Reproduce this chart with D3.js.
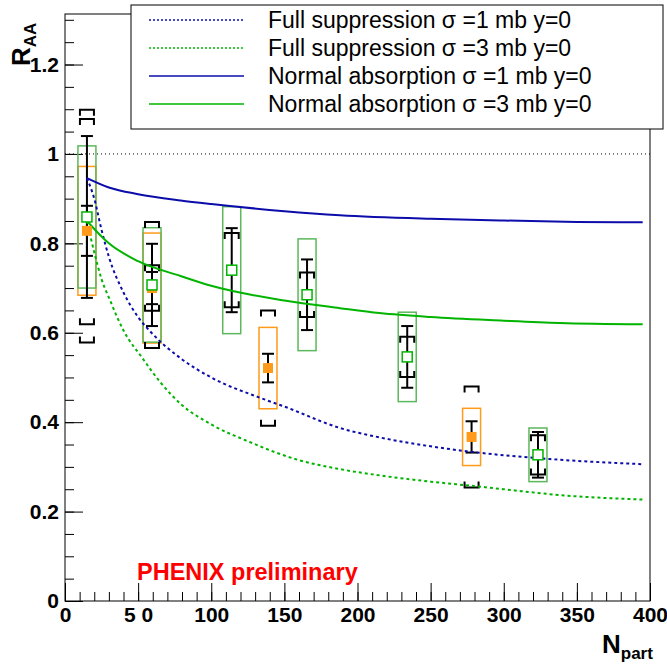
<!DOCTYPE html>
<html>
<head>
<meta charset="utf-8">
<script src="https://cdn.jsdelivr.net/npm/d3@7"></script>
<style>
body { margin: 0; background: #fff; }
svg text { font-family: "Liberation Sans", Arial, sans-serif; }
</style>
</head>
<body>
<svg id="chart" width="667" height="669"></svg>
<script>
// forward rapidity points (open green squares)
var npartFwd = [15, 59.5, 114, 165.5, 234, 323.4];
var raaFwd   = [0.859, 0.707, 0.740, 0.685, 0.546, 0.327];
var statFwd  = [0.181, 0.092, 0.094, 0.079, 0.069, 0.051];
var systFwd  = [0.240, 0.141, 0.083, 0.050, 0.045, 0.044];
var boxFwd   = [0.159, 0.128, 0.142, 0.125, 0.100, 0.060];

// mid rapidity points (filled orange squares)
var npartMid = [15, 59.5, 138.8, 278];
var raaMid   = [0.828, 0.700, 0.521, 0.367];
var statMid  = [0.056, 0.036, 0.032, 0.035];
var systMid  = [0.250, 0.051, 0.129, 0.113];
var boxMid   = [0.144, 0.123, 0.091, 0.064];

// model curves
var npartFull1 = [15, 20, 25, 30, 40, 50, 60, 79, 100, 133, 150, 188, 215, 250, 277, 300, 338, 395];
var raaFull1   = [0.946, 0.90, 0.83, 0.77, 0.69, 0.635, 0.597, 0.543, 0.50, 0.455, 0.435, 0.387, 0.366, 0.346, 0.334, 0.326, 0.316, 0.306];
var npartFull3 = [15, 20, 25, 31, 40, 53, 65, 79, 100, 126, 160, 188, 215, 250, 277, 300, 338, 395];
var raaFull3   = [0.850, 0.78, 0.72, 0.671, 0.605, 0.543, 0.49, 0.441, 0.395, 0.356, 0.315, 0.295, 0.281, 0.267, 0.258, 0.250, 0.237, 0.227];
var npartNorm1 = [15, 30, 50, 79, 100, 150, 188, 250, 300, 350, 395];
var raaNorm1   = [0.946, 0.925, 0.910, 0.896, 0.888, 0.872, 0.863, 0.855, 0.851, 0.848, 0.847];
var npartNorm3 = [15, 30, 50, 79, 100, 150, 188, 215, 250, 300, 338, 395];
var raaNorm3   = [0.850, 0.800, 0.760, 0.727, 0.705, 0.672, 0.655, 0.644, 0.635, 0.627, 0.622, 0.619];

var legendLabels = ["Full suppression \u03c3 =1 mb y=0", "Full suppression \u03c3 =3 mb y=0",
                    "Normal absorption \u03c3 =1 mb y=0", "Normal absorption \u03c3 =3 mb y=0"];
var xTicks = [0, 50, 100, 150, 200, 250, 300, 350, 400];
var yTicks = [0, 0.2, 0.4, 0.6, 0.8, 1, 1.2];

var blue = "#0c0caa", green = "#00b400", boxGreen = "#5cb85c", orange = "#ff9a1a";

var svg = d3.select("#chart");
var x = d3.scaleLinear().domain([0, 400]).range([65, 650]);
var y = d3.scaleLinear().domain([0, 1.313]).range([601, 14]);

// frame
svg.append("rect").attr("x", 65).attr("y", 14).attr("width", 585).attr("height", 587)
  .attr("fill", "none").attr("stroke", "#000").attr("stroke-width", 1);

// axes, ticks inward
var xAx = svg.append("g").attr("transform", "translate(0,601)")
  .call(d3.axisBottom(x).tickValues(xTicks).tickSize(-18).tickPadding(6)
    .tickFormat(function(d) { return d === 50 ? "5 0" : d; }));
svg.append("g").attr("transform", "translate(0,601)")
  .call(d3.axisBottom(x).tickValues(d3.range(0, 401, 10)).tickSize(-9).tickFormat(""));
var yAx = svg.append("g").attr("transform", "translate(65,0)")
  .call(d3.axisLeft(y).tickValues(yTicks).tickSize(-18).tickPadding(6)
    .tickFormat(function(d) { return d === 0 || d === 1 ? d : d.toFixed(1); }));
svg.append("g").attr("transform", "translate(65,0)")
  .call(d3.axisLeft(y).tickValues(d3.range(0, 1.31, 0.05)).tickSize(-9).tickFormat(""));
svg.selectAll(".domain").remove();
svg.selectAll(".tick line").attr("stroke", "#000").attr("stroke-width", 1);
xAx.selectAll("text").attr("font-size", 21).attr("font-weight", "bold").attr("fill", "#000");
yAx.selectAll("text").attr("font-size", 21).attr("font-weight", "bold").attr("fill", "#000");

// axis titles
var xt = svg.append("text").attr("x", 602).attr("y", 653).attr("font-weight", "bold").attr("font-size", 26);
xt.append("tspan").text("N");
xt.append("tspan").attr("font-size", 17).attr("dy", 6).text("part");
var yt = svg.append("text").attr("transform", "translate(30,66) rotate(-90)")
  .attr("font-weight", "bold").attr("font-size", 26);
yt.append("tspan").text("R");
yt.append("tspan").attr("font-size", 17).attr("dy", 6).text("AA");

// dotted line at 1
svg.append("line").attr("x1", x(0)).attr("x2", x(400)).attr("y1", y(1)).attr("y2", y(1))
  .attr("stroke", "#000").attr("stroke-dasharray", "1,3");

// global boxes
function boxes(np, val, err, col) {
  svg.append("g").selectAll("rect").data(np).join("rect")
    .attr("x", function(d) { return x(d) - 9; })
    .attr("width", 18)
    .attr("y", function(d, i) { return y(val[i] + err[i]); })
    .attr("height", function(d, i) { return y(val[i] - err[i]) - y(val[i] + err[i]); })
    .attr("fill", "none").attr("stroke", col).attr("stroke-width", 1.5);
}
boxes(npartMid, raaMid, boxMid, orange);
boxes(npartFwd, raaFwd, boxFwd, boxGreen);

// stat error bars
function statBars(np, val, err) {
  var g = svg.append("g").attr("stroke", "#000").attr("stroke-width", 2);
  np.forEach(function(n, i) {
    var cx = x(n), y1 = y(val[i] + err[i]), y2 = y(val[i] - err[i]);
    g.append("line").attr("x1", cx).attr("x2", cx).attr("y1", y1).attr("y2", y2);
    g.append("line").attr("x1", cx - 6).attr("x2", cx + 6).attr("y1", y1).attr("y2", y1);
    g.append("line").attr("x1", cx - 6).attr("x2", cx + 6).attr("y1", y2).attr("y2", y2);
  });
}
// systematic brackets
function brackets(np, val, err) {
  var g = svg.append("g").attr("stroke", "#000").attr("stroke-width", 2).attr("fill", "none");
  np.forEach(function(n, i) {
    var cx = x(n), y1 = y(val[i] + err[i]), y2 = y(val[i] - err[i]);
    g.append("path").attr("d", "M" + (cx - 7) + "," + (y1 + 6) + "V" + y1 + "H" + (cx + 7) + "V" + (y1 + 6));
    g.append("path").attr("d", "M" + (cx - 7) + "," + (y2 - 6) + "V" + y2 + "H" + (cx + 7) + "V" + (y2 - 6));
  });
}
statBars(npartMid, raaMid, statMid);
brackets(npartMid, raaMid, systMid);
statBars(npartFwd, raaFwd, statFwd);
brackets(npartFwd, raaFwd, systFwd);

// model curves
var line = d3.line().curve(d3.curveMonotoneX);
function curve(np, val, col, dash) {
  svg.append("path").datum(np.map(function(d, i) { return [x(d), y(val[i])]; }))
    .attr("d", line).attr("fill", "none").attr("stroke", col).attr("stroke-width", 2)
    .attr("stroke-dasharray", dash);
}
curve(npartFull1, raaFull1, blue, "3,3");
curve(npartFull3, raaFull3, green, "3,3");
curve(npartNorm1, raaNorm1, blue, null);
curve(npartNorm3, raaNorm3, green, null);

// markers
svg.append("g").selectAll("rect").data(npartMid).join("rect")
  .attr("x", function(d) { return x(d) - 5; }).attr("width", 10)
  .attr("y", function(d, i) { return y(raaMid[i]) - 5; }).attr("height", 10)
  .attr("fill", orange);
svg.append("g").selectAll("rect").data(npartFwd).join("rect")
  .attr("x", function(d) { return x(d) - 5; }).attr("width", 10)
  .attr("y", function(d, i) { return y(raaFwd[i]) - 5; }).attr("height", 10)
  .attr("fill", "#fff").attr("stroke", green).attr("stroke-width", 1.5);

// label
svg.append("text").attr("x", 137).attr("y", 580).attr("fill", "#ff0000")
  .attr("font-weight", "bold").attr("font-size", 23.5).text("PHENIX preliminary");

// legend
var leg = svg.append("g");
leg.append("rect").attr("x", 131).attr("y", 5).attr("width", 532).attr("height", 124)
  .attr("fill", "#fff").attr("stroke", "#000").attr("stroke-width", 1);
var legStyle = [[blue, "3,3"], [green, "3,3"], [blue, null], [green, null]];
legendLabels.forEach(function(t, i) {
  var ly = 20 + i * 28;
  leg.append("line").attr("x1", 149).attr("x2", 244).attr("y1", ly).attr("y2", ly)
    .attr("stroke", legStyle[i][0]).attr("stroke-width", 1.5).attr("stroke-dasharray", legStyle[i][1] ? "2,2" : null);
  leg.append("text").attr("x", 268).attr("y", ly + 8).attr("font-size", 23).text(t);
});
</script>
</body>
</html>
